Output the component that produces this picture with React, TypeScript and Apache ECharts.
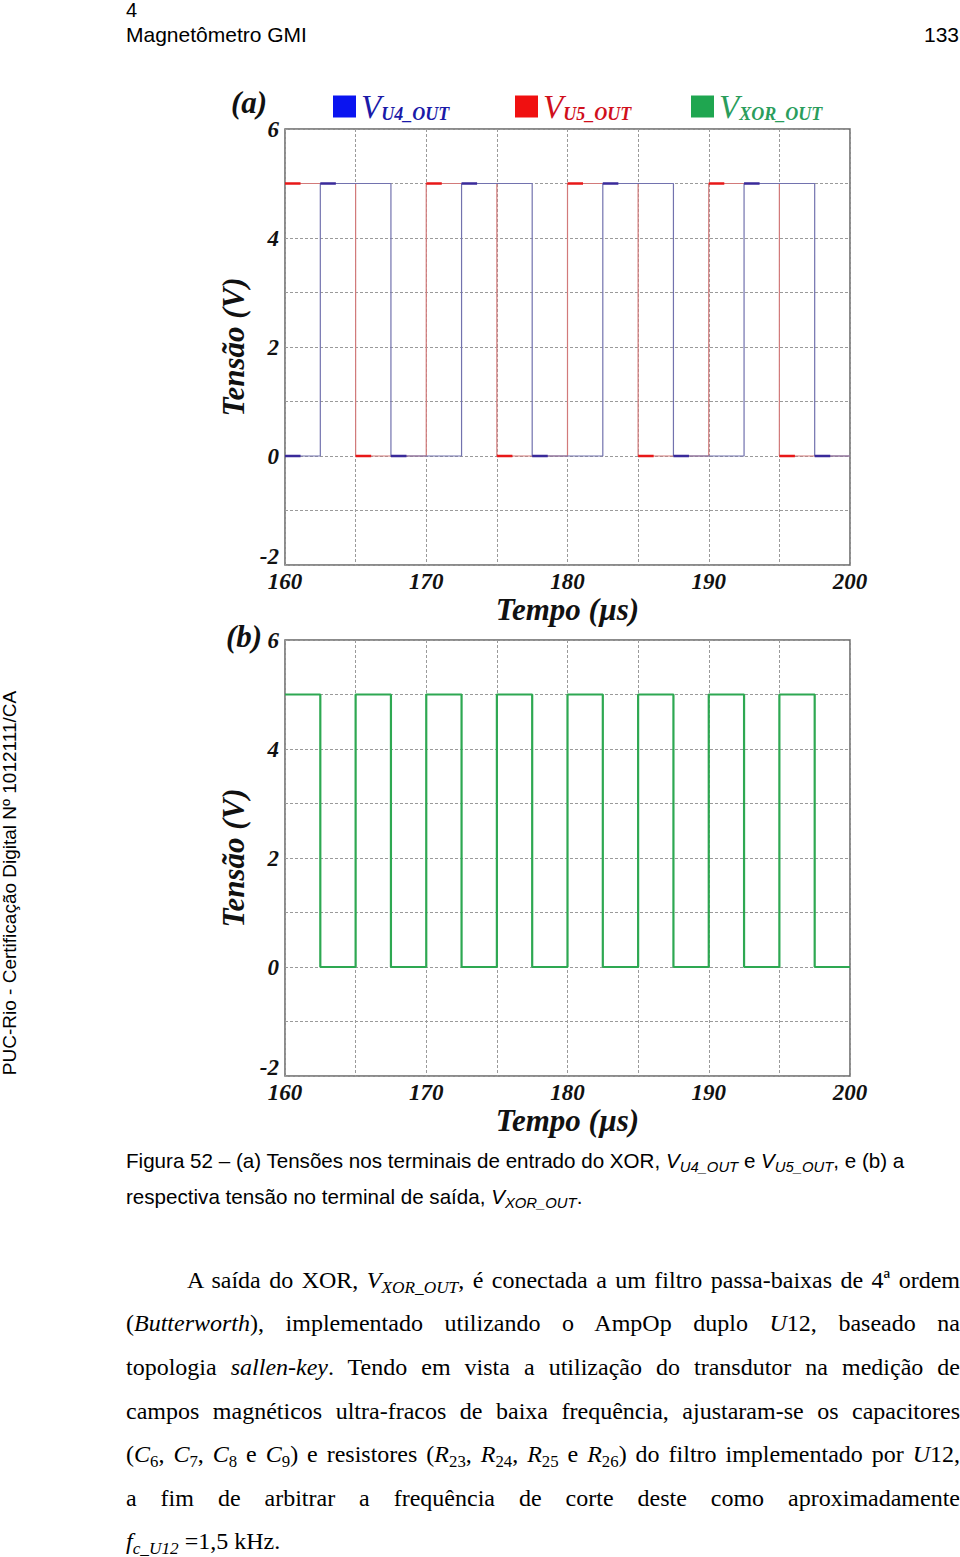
import React, { useEffect, useRef } from 'react';
import * as echarts from 'echarts';

// ---- data ----
const timeTicks = [160, 170, 180, 190, 200];
const voltTicks = [-2, 0, 2, 4, 6];
// V_U5_OUT: level that starts at each time (step held until next time)
const u5Times = [160, 165, 170, 175, 180, 185, 190, 195, 200];
const u5Values = [5, 0, 5, 0, 5, 0, 5, 0, 0];
// V_U4_OUT
const u4Times = [160, 162.5, 167.5, 172.5, 177.5, 182.5, 187.5, 192.5, 197.5, 200];
const u4Values = [0, 5, 0, 5, 0, 5, 0, 5, 0, 0];
// V_XOR_OUT
const xorTimes = [160, 162.5, 165, 167.5, 170, 172.5, 175, 177.5, 180, 182.5, 185, 187.5, 190, 192.5, 195, 197.5, 200];
const xorValues = [5, 0, 5, 0, 5, 0, 5, 0, 5, 0, 5, 0, 5, 0, 5, 0, 0];

const pairs = (ts: number[], vs: number[]) => ts.map((t, i) => [t, vs[i]]);
// short marker dashes at the start of each level
const dashes = (ts: number[], vs: number[]) => {
  const out: any[] = [];
  for (let i = 0; i < ts.length - 1; i++) {
    out.push([ts[i], vs[i]], [ts[i] + 1.1, vs[i]], [ts[i] + 1.1, '-']);
  }
  return out;
};

const SERIF = "'Liberation Serif', 'Times New Roman', serif";
const SANS = "'Liberation Sans', Arial, sans-serif";

const axisFont = { fontFamily: SERIF, fontStyle: 'italic' as const, fontWeight: 'bold' as const, color: '#111' };

function makeX(gridIndex: number) {
  return {
    type: 'value', gridIndex, min: 160, max: 200, interval: 5,
    axisLine: { show: false }, axisTick: { show: false },
    axisLabel: {
      ...axisFont, fontSize: 23, margin: 5, showMinLabel: true, showMaxLabel: true,
      formatter: (v: number) => (timeTicks.includes(v) ? String(v) : ''),
    },
    splitLine: { show: true, lineStyle: { color: '#9a9a9a', type: [3, 2], width: 1 } },
    name: 'Tempo (µs)', nameLocation: 'middle', nameGap: 25,
    nameTextStyle: { ...axisFont, fontSize: 31 },
  };
}
function makeY(gridIndex: number) {
  return {
    type: 'value', gridIndex, min: -2, max: 6, interval: 1,
    axisLine: { show: false }, axisTick: { show: false },
    axisLabel: {
      ...axisFont, fontSize: 23, margin: 6, showMinLabel: true, showMaxLabel: true,
      formatter: (v: number) => (v === -2 ? '{m|-2}' : voltTicks.includes(v) ? String(v) : ''),
      rich: { m: { ...axisFont, fontSize: 23, lineHeight: 12, padding: [0, 0, 18, 0] } },
    },
    splitLine: { show: true, lineStyle: { color: '#9a9a9a', type: [3, 2], width: 1 } },
    name: 'Tensão (V)', nameLocation: 'middle', nameGap: 34,
    nameTextStyle: { ...axisFont, fontSize: 31 },
  };
}

const richFor = (color: string) => ({
  v: { fontFamily: SERIF, fontStyle: 'italic', fontSize: 33, lineHeight: 33, verticalAlign: 'top', color },
  s: { fontFamily: SERIF, fontStyle: 'italic', fontWeight: 'bold', fontSize: 18, lineHeight: 18, padding: [15, 0, 0, 0], verticalAlign: 'top', color },
});
function makeLegend(name: string, sub: string, left: number, square: string, text: string) {
  return {
    data: [name], left, top: 90, icon: 'rect', itemWidth: 23, itemHeight: 22, padding: 0,
    selectedMode: false,
    itemStyle: { color: square },
    formatter: () => `{v|V}{s|${sub}}`,
    textStyle: { color: text, rich: richFor(text) },
  };
}

function Sub({ children }: { children: React.ReactNode }) {
  return <span style={{ fontSize: '0.72em', verticalAlign: '-0.3em', fontStyle: 'italic' }}>{children}</span>;
}
function SubN({ children }: { children: React.ReactNode }) {
  return <span style={{ fontSize: '0.7em', verticalAlign: '-0.3em' }}>{children}</span>;
}

export default function App() {
  const ref = useRef<HTMLDivElement>(null);
  useEffect(() => {
    if (!ref.current) return;
    const chart = echarts.init(ref.current, undefined, { renderer: 'svg' });
    chart.setOption({
      animation: false,
      backgroundColor: 'transparent',
      grid: [
        { left: 285, top: 129, width: 565, height: 436, show: true, borderColor: '#666', borderWidth: 1.5, backgroundColor: 'transparent' },
        { left: 285, top: 640, width: 565, height: 436, show: true, borderColor: '#666', borderWidth: 1.5, backgroundColor: 'transparent' },
      ],
      xAxis: [makeX(0), makeX(1)],
      yAxis: [makeY(0), makeY(1)],
      legend: [
        makeLegend('V_U4_OUT', 'U4_OUT', 333, '#0a14f0', '#1a1aa8'),
        makeLegend('V_U5_OUT', 'U5_OUT', 515, '#f01010', '#d0101c'),
        makeLegend('V_XOR_OUT', 'XOR_OUT', 691, '#1fa650', '#2a9d5c'),
      ],
      graphic: [
        { type: 'text', left: 231, top: 87, style: { text: '(a)', font: `italic bold 31px ${SERIF}`, fill: '#111' } },
        { type: 'text', left: 226, top: 621, style: { text: '(b)', font: `italic bold 31px ${SERIF}`, fill: '#111' } },
      ],
      series: [
        {
          name: 'V_U5_OUT', type: 'line', xAxisIndex: 0, yAxisIndex: 0, step: 'end', showSymbol: false,
          data: pairs(u5Times, u5Values), lineStyle: { color: '#d27a7a', width: 1.2 }, itemStyle: { color: '#f01010' },
        },
        {
          name: 'V_U4_OUT', type: 'line', xAxisIndex: 0, yAxisIndex: 0, step: 'end', showSymbol: false,
          data: pairs(u4Times, u4Values), lineStyle: { color: '#7272ae', width: 1.2 }, itemStyle: { color: '#0a14f0' },
        },
        {
          name: 'U5 marks', type: 'line', xAxisIndex: 0, yAxisIndex: 0, showSymbol: false, connectNulls: false,
          data: dashes(u5Times, u5Values), lineStyle: { color: '#e81818', width: 2.5 },
        },
        {
          name: 'U4 marks', type: 'line', xAxisIndex: 0, yAxisIndex: 0, showSymbol: false, connectNulls: false,
          data: dashes(u4Times, u4Values), lineStyle: { color: '#3a2a9a', width: 2.5 },
        },
        {
          name: 'V_XOR_OUT', type: 'line', xAxisIndex: 1, yAxisIndex: 1, step: 'end', showSymbol: false,
          data: pairs(xorTimes, xorValues), lineStyle: { color: '#2ea852', width: 2.2 }, itemStyle: { color: '#1fa650' },
        },
      ],
    });
    return () => chart.dispose();
  }, []);

  const sans = { fontFamily: SANS, color: '#000', position: 'absolute' as const, whiteSpace: 'nowrap' as const };
  const bodyLine = (top: number, left: number) => ({
    position: 'absolute' as const, left, top: top - 15, width: 960 - left, height: 30, lineHeight: '30px',
    fontFamily: SERIF, fontSize: 24, color: '#000', textAlign: 'justify' as const, textAlignLast: 'justify' as const,
  });

  return (
    <div style={{ position: 'absolute', left: 0, top: 0, width: 960, height: 1557, background: '#fff', overflow: 'hidden' }}>
      <div style={{ ...sans, left: 126, top: 0, fontSize: 20, lineHeight: '20px' }}>4</div>
      <div style={{ ...sans, left: 126, top: 24, fontSize: 21, lineHeight: '22px' }}>Magnetômetro GMI</div>
      <div style={{ ...sans, right: 1, top: 24, fontSize: 21, lineHeight: '22px' }}>133</div>
      <div style={{ ...sans, left: 10 - 210, top: 883 - 10, width: 420, height: 20, fontSize: 19, lineHeight: '20px', textAlign: 'center', transform: 'rotate(-90deg)', transformOrigin: '50% 50%' }}>
        PUC-Rio - Certificação Digital Nº 1012111/CA
      </div>
      <div ref={ref} style={{ position: 'absolute', left: 0, top: 0, width: 960, height: 1140 }} />
      <div style={{ ...sans, left: 126, top: 1161 - 13, fontSize: 20.6, lineHeight: '26px' }}>
        Figura 52 – (a) Tensões nos terminais de entrado do XOR, <i>V</i><Sub>U4_OUT</Sub> e <i>V</i><Sub>U5_OUT</Sub>, e (b) a
      </div>
      <div style={{ ...sans, left: 126, top: 1197 - 13, fontSize: 20.6, lineHeight: '26px' }}>
        respectiva tensão no terminal de saída, <i>V</i><Sub>XOR_OUT</Sub>.
      </div>
      <div style={bodyLine(1280, 187)}>
        A saída do XOR, <i>V</i><Sub>XOR_OUT</Sub>, é conectada a um filtro passa-baixas de 4ª ordem
      </div>
      <div style={bodyLine(1323, 126)}>
        (<i>Butterworth</i>), implementado utilizando o AmpOp duplo <i>U</i>12, baseado na
      </div>
      <div style={bodyLine(1367, 126)}>
        topologia <i>sallen-key</i>. Tendo em vista a utilização do transdutor na medição de
      </div>
      <div style={bodyLine(1411, 126)}>
        campos magnéticos ultra-fracos de baixa frequência, ajustaram-se os capacitores
      </div>
      <div style={bodyLine(1454, 126)}>
        (<i>C</i><SubN>6</SubN>, <i>C</i><SubN>7</SubN>, <i>C</i><SubN>8</SubN> e <i>C</i><SubN>9</SubN>) e resistores (<i>R</i><SubN>23</SubN>, <i>R</i><SubN>24</SubN>, <i>R</i><SubN>25</SubN> e <i>R</i><SubN>26</SubN>) do filtro implementado por <i>U</i>12,
      </div>
      <div style={bodyLine(1498, 126)}>
        a fim de arbitrar a frequência de corte deste como aproximadamente
      </div>
      <div style={{ ...bodyLine(1541, 126), textAlign: 'left', textAlignLast: 'left' }}>
        <i>f</i><Sub>c_U12</Sub> =1,5 kHz.
      </div>
    </div>
  );
}
